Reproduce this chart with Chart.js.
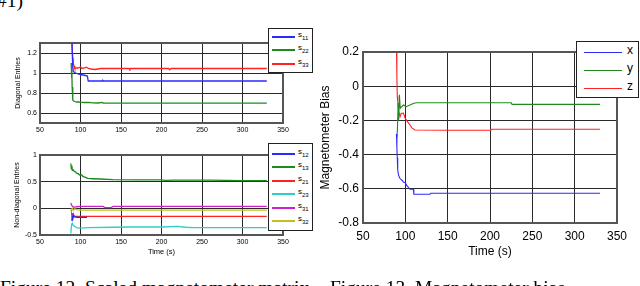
<!DOCTYPE html>
<html><head><meta charset="utf-8">
<script src="https://cdn.jsdelivr.net/npm/chart.js@4"></script>
<style>
html,body{margin:0;padding:0;background:#fff;width:640px;height:286px;overflow:hidden;position:relative;font-family:"Liberation Sans",Arial,sans-serif;}
.wrap{position:absolute;}
canvas{display:block;}
.legend{position:absolute;background:#fff;border:1px solid #222;box-sizing:border-box;}
.sw{position:absolute;}
.lbl{position:absolute;color:#000;white-space:nowrap;}
.lbl sub{vertical-align:baseline;position:relative;}
.cap{position:absolute;font-family:"Liberation Serif","Times New Roman",serif;font-size:19.5px;line-height:19.5px;color:#000;white-space:nowrap;}
</style></head><body>
<div class="cap" style="left:-3px;top:-9px;">#1)</div>
<div class="wrap" style="left:0;top:30px;"><canvas id="c1" width="310" height="110"></canvas></div>
<div class="wrap" style="left:0;top:140px;"><canvas id="c2" width="310" height="130"></canvas></div>
<div class="wrap" style="left:310px;top:30px;"><canvas id="c3" width="330" height="250"></canvas></div>
<div class="legend" id="lg1" style="left:268px;top:28px;width:45px;height:45px;"></div>
<div class="legend" id="lg2" style="left:268px;top:143px;width:45px;height:88px;"></div>
<div class="legend" id="lg3" style="left:576px;top:41px;width:63px;height:57px;"></div>
<div class="cap" style="left:0;top:277.5px;">Figure 12. Scaled magnetometer matrix</div>
<div class="cap" style="left:330px;top:277.5px;">Figure 13. Magnetometer bias</div>
<script>
// ---------- Figure 12 (top): diagonal entries ----------
const diagXTicks = [50,100,150,200,250,300,350];
const diagYTicks = [0.6,0.8,1,1.2];
const diagNames = ['11','22','33'];
const s11Time = [89.5,90,90.5,91,92,94,97,100,103,106,108.5,109.5,127,127.5,128.5,330];
const s11Vals = [1.32,1.15,1.06,1.02,1.01,1.0,0.99,0.985,0.98,0.975,0.97,0.92,0.92,0.926,0.92,0.92];
const s22Time = [88.5,89,89.3,89.7,90.2,90.7,91.5,93,95,98,101,105,110,115,122,127,128,135,330];
const s22Vals = [1.1,0.95,1.09,0.86,0.76,0.73,0.72,0.715,0.71,0.712,0.708,0.705,0.707,0.702,0.70,0.706,0.70,0.698,0.698];
const s33Time = [89,90,91,92,93,95,97,100,102,105,107,110,113,118,125,160,161,162,209,210,212,330];
const s33Vals = [1.35,1.2,1.1,1.07,1.045,1.05,1.05,1.06,1.045,1.05,1.058,1.045,1.04,1.035,1.045,1.045,1.035,1.045,1.045,1.032,1.045,1.045];

// ---------- Figure 12 (bottom): non-diagonal entries ----------
const offXTicks = [50,100,150,200,250,300,350];
const offYTicks = [-0.5,0,0.5,1];
const offNames = ['12','13','21','23','31','32'];
const s12Time = [88.5,89.5,90.5,91.5,93,96,100,104,108];
const s12Vals = [-0.22,-0.13,-0.2,-0.14,-0.16,-0.17,-0.17,-0.17,-0.17];
const s13Time = [88,88.7,89.3,90,91,92,94,95,97,99,101,103,106,109,115,125,140,170,200,205,215,260,300,330];
const s13Vals = [0.84,0.74,0.8,0.71,0.72,0.70,0.68,0.66,0.65,0.625,0.63,0.6,0.58,0.56,0.555,0.55,0.54,0.535,0.535,0.525,0.53,0.53,0.52,0.52];
const s21Time = [89,90,91,92,93,100,330];
const s21Vals = [-0.1,-0.12,-0.1,-0.14,-0.15,-0.15,-0.15];
const s23Time = [88,89,90,91,93,95,100,110,140,160,200,220,230,240,330];
const s23Vals = [-0.47,-0.3,-0.28,-0.32,-0.34,-0.36,-0.37,-0.36,-0.355,-0.35,-0.35,-0.34,-0.355,-0.36,-0.36];
const s31Time = [88,89,90,92,95,100,128,130,138,140,330];
const s31Vals = [0.1,0.06,0.04,0.02,0.03,0.035,0.035,0.015,0.015,0.035,0.035];
const s32Time = [88,89,90,91,93,96,100,330];
const s32Vals = [-0.06,-0.02,0.0,-0.04,-0.01,-0.03,-0.035,-0.035];

// ---------- Figure 13: magnetometer bias ----------
const biasXTicks = [50,100,150,200,250,300,350];
const biasYTicks = [-0.8,-0.6,-0.4,-0.2,0,0.2];
const biasNames = ['x','y','z'];
const biasXTime = [89.5,90,90.5,91,92,93.7,96,97.7,100,101.6,105.5,109.5,110,129,130,330];
const biasXVals = [-0.28,-0.36,-0.42,-0.49,-0.52,-0.54,-0.55,-0.56,-0.565,-0.58,-0.603,-0.603,-0.632,-0.632,-0.626,-0.626];
const biasYTime = [90,90.6,91.5,92,93,94,95.7,98,101,105.5,110,113.4,225,226,330];
const biasYVals = [-0.3,-0.26,-0.1,-0.2,-0.05,-0.13,-0.12,-0.11,-0.12,-0.11,-0.1,-0.097,-0.097,-0.106,-0.106];
const biasZTime = [89.5,90,90.5,91,92,93.7,95,97.7,100,101.6,103,105.5,108,111.4,150,200,201,330];
const biasZVals = [0.25,0.06,-0.06,-0.09,-0.14,-0.18,-0.16,-0.157,-0.19,-0.2,-0.21,-0.227,-0.245,-0.256,-0.258,-0.258,-0.252,-0.252];

const C = {blue:'#2a2aff', green:'#1e8a1e', red:'#ff2020', cyan:'#33cccc', magenta:'#cc22cc', yellow:'#c0c020'};

function pts(t, v){ return t.map((x,i)=>({x:x, y:v[i]})); }
function fmt(v){ return String(Math.round(v*100)/100); }

const framePlugin = {
  id:'frame',
  afterDatasetsDraw(chart){
    const {ctx, chartArea:a} = chart;
    ctx.save();
    ctx.strokeStyle = '#555';
    ctx.lineWidth = 2;
    ctx.strokeRect(a.left, a.top, a.right-a.left, a.bottom-a.top);
    ctx.restore();
  }
};

function makeChart(id, o){
  return new Chart(document.getElementById(id), {
    type:'line',
    data:{datasets:o.series.map(s=>({
      data:pts(s.t, s.v), borderColor:s.c, borderWidth:o.lw, pointRadius:0, fill:false, tension:0
    }))},
    options:{
      responsive:false, animation:false, events:[], devicePixelRatio:1,
      layout:{padding:o.pad},
      plugins:{legend:{display:false}, tooltip:{enabled:false}},
      scales:{
        x:{type:'linear', min:o.xMin, max:o.xMax,
          afterBuildTicks:s=>{s.ticks=o.xTicks.map(v=>({value:v}));},
          afterFit:s=>{s.height=o.xH;},
          grid:{color:'#2a2a2a', lineWidth:1, drawTicks:false},
          border:{display:false},
          ticks:{color:'#000', font:{family:'"Liberation Sans", Arial, sans-serif', size:o.fs}, padding:o.xPad, maxRotation:0, autoSkip:false, callback:fmt},
          title:{display:!!o.xTitle, text:o.xTitle||'', color:'#000', padding:0, font:{family:'"Liberation Sans", Arial, sans-serif', size:o.tfs}}
        },
        y:{type:'linear', min:o.yMin, max:o.yMax,
          afterBuildTicks:s=>{s.ticks=o.yTicks.map(v=>({value:v}));},
          afterFit:s=>{s.width=o.yW;},
          grid:{color:'#2a2a2a', lineWidth:1, drawTicks:false},
          border:{display:false},
          ticks:{color:'#000', font:{family:'"Liberation Sans", Arial, sans-serif', size:o.fs}, padding:o.yPad, autoSkip:false, callback:fmt},
          title:{display:true, text:o.yTitle, color:'#000', padding:0, font:{family:'"Liberation Sans", Arial, sans-serif', size:o.yfs}}
        }
      }
    },
    plugins:[framePlugin]
  });
}

makeChart('c1', {
  series:[{t:s11Time,v:s11Vals,c:C.blue},{t:s22Time,v:s22Vals,c:C.green},{t:s33Time,v:s33Vals,c:C.red}],
  lw:1.3, pad:{left:14,top:13,right:27,bottom:3}, xMin:50, xMax:350, yMin:0.5, yMax:1.3,
  xTicks:diagXTicks, yTicks:diagYTicks, xH:14, yW:26, fs:7, xPad:3, yPad:3,
  yTitle:'Diagonal Entries', yfs:7
});
makeChart('c2', {
  series:[{t:s12Time,v:s12Vals,c:C.blue},{t:s13Time,v:s13Vals,c:C.green},{t:s21Time,v:s21Vals,c:C.red},
          {t:s23Time,v:s23Vals,c:C.cyan},{t:s31Time,v:s31Vals,c:C.magenta},{t:s32Time,v:s32Vals,c:C.yellow}],
  lw:1.3, pad:{left:13,top:15,right:27,bottom:13.5}, xMin:50, xMax:350, yMin:-0.5, yMax:1,
  xTicks:offXTicks, yTicks:offYTicks, xH:21.5, yW:27, fs:7, xPad:3, yPad:3,
  yTitle:'Non-diagonal Entries', yfs:7, xTitle:'Time (s)', tfs:7.5
});
makeChart('c3', {
  series:[{t:biasXTime,v:biasXVals,c:C.blue},{t:biasYTime,v:biasYVals,c:C.green},{t:biasZTime,v:biasZVals,c:C.red}],
  lw:1.1, pad:{left:8,top:22,right:23,bottom:21}, xMin:50, xMax:350, yMin:-0.8, yMax:0.2,
  xTicks:biasXTicks, yTicks:biasYTicks, xH:36, yW:45, fs:12, xPad:6, yPad:4,
  yTitle:'Magnetometer Bias', yfs:12, xTitle:'Time (s)', tfs:12
});

function legend(id, names, colors, ys, swL, swW, txtL, fs, subFs, prefix, lh){
  const el = document.getElementById(id);
  names.forEach((n,i)=>{
    const sw = document.createElement('div');
    sw.className='sw';
    sw.style.cssText = `left:${swL}px;width:${swW}px;top:${Math.round(ys[i]-lh/2)}px;height:${lh}px;background:${colors[i]};`;
    el.appendChild(sw);
    const lb = document.createElement('div');
    lb.className='lbl';
    lb.style.cssText = `left:${txtL}px;top:${Math.round(ys[i]-fs*0.7)}px;font-size:${fs}px;line-height:${fs}px;`;
    if(prefix){
      lb.innerHTML = prefix + `<sub style="font-size:${subFs}px;top:${Math.round(fs*0.35)}px;">${n}</sub>`;
    } else {
      lb.textContent = n;
    }
    el.appendChild(lb);
  });
}
legend('lg1', diagNames, [C.blue,C.green,C.red], [8,21,35], 3, 23, 29, 8, 6, 's', 2);
legend('lg2', offNames, [C.blue,C.green,C.red,C.cyan,C.magenta,C.yellow], [10,23,37,50,64,77], 3, 23, 29, 8, 6, 's', 2);
legend('lg3', biasNames, [C.blue,C.green,C.red], [10,28,46], 7, 38, 50, 12, 0, '', 1);
</script>
</body></html>
